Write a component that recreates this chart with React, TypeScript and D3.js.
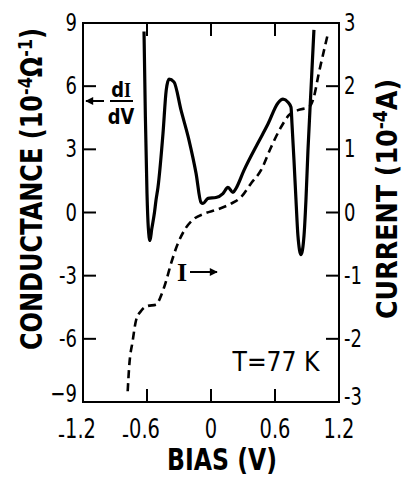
import React from 'react';
import * as d3 from 'd3';

const W = 403;
const H = 478;

// solid trace: conductance dI/dV (10^-4 ohm^-1) against bias (V)
const condBias = [-0.628, -0.615, -0.6, -0.588, -0.572, -0.556, -0.53, -0.516, -0.497, -0.45, -0.42, -0.394, -0.347,
  -0.281, -0.206, -0.14, -0.094, -0.075, -0.028, 0.047, 0.112, 0.159, 0.206, 0.234, 0.309, 0.44, 0.534, 0.628, 0.675,
  0.722, 0.75, 0.759, 0.778, 0.797, 0.815, 0.844, 0.872, 0.89, 0.909, 0.937, 0.965];
const condVal = [8.6, 4.5, 0.9, -0.7, -1.33, -0.8, 0.0, 0.57, 1.2, 3.76, 5.8, 6.33, 6.2,
  4.86, 3.43, 1.86, 0.48, 0.43, 0.67, 0.71, 0.9, 1.19, 0.95, 1.14, 2.0, 3.3, 4.2, 5.2, 5.38,
  5.24, 5.0, 4.24, 2.48, 0.57, -1.1, -2.0, -1.1, 0.57, 2.95, 5.8, 8.67];

// dashed trace: current (10^-4 A) against bias (V)
const curBias = [-0.781, -0.768, -0.734, -0.703, -0.656, -0.594, -0.516, -0.469, -0.42, -0.375, -0.31, -0.234, -0.159,
  -0.066, 0.063, 0.1875, 0.28, 0.375, 0.469, 0.562, 0.656, 0.73, 0.815, 0.92, 0.965, 1.01, 1.06, 1.1];
const curVal = [-2.83, -2.46, -2.03, -1.71, -1.56, -1.48, -1.46, -1.32, -1.08, -0.81, -0.49, -0.24, -0.1,
  -0.02, 0.05, 0.14, 0.24, 0.46, 0.67, 1.03, 1.35, 1.54, 1.62, 1.67, 1.83, 2.2, 2.57, 2.86];

const biasTicks = [-1.2, -0.6, 0, 0.6, 1.2];
const biasLabels = ['1.2', '0.6', '0', '0.6', '1.2'];
const condTicks = [9, 6, 3, 0, -3, -6, -9];
const condLabels = ['9', '6', '3', '0', '-3', '-6', '\u22129'];
const curTicks = [3, 2, 1, 0, -1, -2, -3];
const curLabels = ['3', '2', '1', '0', '-1', '-2', '-3'];

const font = "'DejaVu Sans', 'Liberation Sans', sans-serif";
const serif = "'Liberation Serif', 'DejaVu Serif', serif";
const squeeze = 0.72;

const App = () => {
  const x = d3.scaleLinear().domain([-1.2, 1.2]).range([83, 339]);
  const yG = d3.scaleLinear().domain([-9, 9]).range([402, 23]);
  const yI = d3.scaleLinear().domain([-3, 3]).range([402, 23]);

  const condPath = d3.line<number>()
    .x((d, i) => x(condBias[i]))
    .y((d) => yG(d))
    .curve(d3.curveMonotoneX)(condVal) || '';
  const curPath = d3.line<number>()
    .x((d, i) => x(curBias[i]))
    .y((d) => yI(d))
    .curve(d3.curveMonotoneX)(curVal) || '';

  const x0 = x(-1.2), x1 = x(1.2), yt = yG(9), yb = yG(-9);
  const tk = 13;

  return (
    <svg width={W} height={H} style={{ position: 'absolute', left: 0, top: 0, background: '#fff' }}>
      <defs>
        <marker id="head" viewBox="0 0 10 10" refX="9" refY="5" markerWidth="5" markerHeight="4" orient="auto">
          <path d="M0,0 L10,5 L0,10 z" fill="#000" />
        </marker>
      </defs>
      <rect x={x0} y={yt} width={x1 - x0} height={yb - yt} fill="none" stroke="#000" strokeWidth={2} />

      {/* bias ticks, bottom and top */}
      {biasTicks.slice(1, -1).map((t) => (
        <g key={'bt' + t}>
          <line x1={x(t)} x2={x(t)} y1={yb} y2={yb - tk} stroke="#000" strokeWidth={2} />
          <line x1={x(t)} x2={x(t)} y1={yt} y2={yt + tk} stroke="#000" strokeWidth={2} />
        </g>
      ))}
      {biasTicks.map((t, i) => (
        <g key={'bl' + t} transform={`translate(${x(t) - (t < 0 ? 6 : 0)},438) scale(${squeeze},1)`}>
          <text textAnchor="middle" fontFamily={font} fontSize={27}>
            {t < 0 ? <tspan dy={5}>-</tspan> : null}
            <tspan dy={t < 0 ? -5 : 0}>{biasLabels[i]}</tspan>
          </text>
        </g>
      ))}

      {/* conductance axis */}
      {condTicks.slice(1, -1).map((t) => (
        <line key={'ct' + t} x1={x0} x2={x0 + tk} y1={yG(t)} y2={yG(t)} stroke="#000" strokeWidth={2} />
      ))}
      {condTicks.map((t, i) => (
        <g key={'cl' + t} transform={`translate(77,${yG(t) + (t === -9 ? 0 : 8)}) scale(${squeeze},1)`}>
          <text textAnchor="end" fontFamily={font} fontSize={25}>{condLabels[i]}</text>
        </g>
      ))}

      {/* current axis */}
      {curTicks.slice(1, -1).map((t) => (
        <line key={'it' + t} x1={x1} x2={x1 - tk} y1={yI(t)} y2={yI(t)} stroke="#000" strokeWidth={2} />
      ))}
      {curTicks.map((t, i) => (
        <g key={'il' + t} transform={`translate(344,${yI(t) + (t === -3 ? 3 : 8)}) scale(${squeeze},1)`}>
          <text textAnchor="start" fontFamily={font} fontSize={25}>{curLabels[i]}</text>
        </g>
      ))}

      {/* axis titles */}
      <text transform="translate(42,189) rotate(-90)" textAnchor="middle" fontFamily={font} fontWeight="bold"
        fontSize={30} textLength={322} lengthAdjust="spacingAndGlyphs">
        CONDUCTANCE (10<tspan dy={-10} fontSize={20}>-4</tspan><tspan dy={10}>Ω</tspan><tspan dy={-10} fontSize={20}>-1</tspan><tspan dy={10}>)</tspan>
      </text>
      <text transform="translate(397,199) rotate(-90)" textAnchor="middle" fontFamily={font} fontWeight="bold"
        fontSize={28} textLength={240} lengthAdjust="spacingAndGlyphs">
        CURRENT (10<tspan dy={-10} fontSize={19}>-4</tspan><tspan dy={10}>A)</tspan>
      </text>
      <text x={222} y={470} textAnchor="middle" fontFamily={font} fontWeight="bold" fontSize={30}
        textLength={110} lengthAdjust="spacingAndGlyphs">
        BIAS (V)
      </text>

      {/* curves */}
      <path d={curPath} fill="none" stroke="#000" strokeWidth={2.6} strokeDasharray="8,5" />
      <path d={condPath} fill="none" stroke="#000" strokeWidth={3.2} strokeLinejoin="round" />

      {/* annotations */}
      <g transform={`translate(121,97) scale(0.85,1)`}>
        <text textAnchor="middle" fontFamily={font} fontWeight="bold" fontSize={21}>
          d<tspan fontFamily={serif}>I</tspan>
        </text>
      </g>
      <line x1={110} x2={133} y1={101} y2={101} stroke="#000" strokeWidth={2} />
      <g transform={`translate(121,124) scale(0.85,1)`}>
        <text textAnchor="middle" fontFamily={font} fontWeight="bold" fontSize={21}>dV</text>
      </g>
      <line x1={104} x2={86} y1={101} y2={101} stroke="#000" strokeWidth={2} markerEnd="url(#head)" />

      <text x={182} y={281} textAnchor="middle" fontFamily={serif} fontWeight="bold" fontSize={26}>I</text>
      <line x1={190} x2={217} y1={272} y2={272} stroke="#000" strokeWidth={2} markerEnd="url(#head)" />

      <text x={276} y={371} textAnchor="middle" fontFamily={font} fontSize={27} textLength={87} lengthAdjust="spacingAndGlyphs">
        T=77 K
      </text>
    </svg>
  );
};

export default App;
